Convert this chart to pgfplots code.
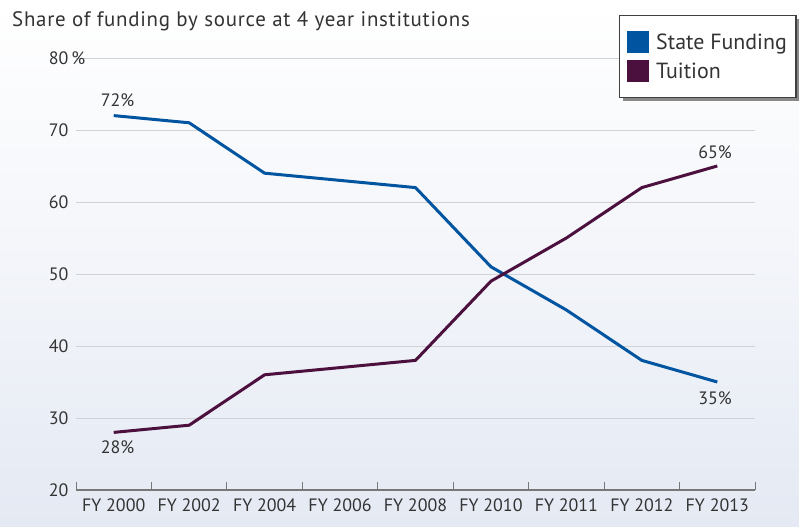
\documentclass[border=0pt]{standalone}
\usepackage{fontspec}
\setmainfont{PT Sans}
\usepackage{pgfplots}
\pgfplotsset{compat=1.18}
\definecolor{statec}{RGB}{0,84,160}
\definecolor{tuitc}{RGB}{76,16,62}
\definecolor{txt}{RGB}{51,51,51}
\definecolor{gridc}{RGB}{210,210,212}
\definecolor{bgb}{RGB}{228,233,243}
\definecolor{axc}{RGB}{120,120,120}
\begin{document}
\begin{tikzpicture}[x=1bp,y=1bp]
\shade[top color=white,bottom color=bgb,middle color=white!55!bgb] (0,0) rectangle (799,527);
\useasboundingbox (0,0) rectangle (799,527);
\node[anchor=base west, font=\fontsize{21}{24}\selectfont\addfontfeature{LetterSpace=3.5}, text=txt, inner sep=0] at (12,500) {Share of funding by source at 4 year institutions};
% legend shadow
\fill[black, opacity=0.45] (623,426) rectangle (830,508);
\begin{axis}[at={(76bp,37bp)}, anchor=south west, scale only axis,
  width=679bp, height=432bp,
  xmin=-0.5, xmax=8.5, ymin=20, ymax=80,
  clip=false,
  axis x line*=bottom, axis y line*=left,
  x axis line style={-, draw=axc, line width=1.2pt},
  y axis line style={draw=none},
  xtick={0,...,8},
  xticklabels={FY 2000,FY 2002,FY 2004,FY 2006,FY 2008,FY 2010,FY 2011,FY 2012,FY 2013},
  minor xtick={-0.5,0.5,...,8.5},
  major x tick style={draw=none},
  minor x tick style={draw=axc, line width=1pt},
  minor tick length=8bp,
  tick align=inside,
  ytick={20,30,...,80},
  yticklabels={20,30,40,50,60,70,{80\rlap{\,\%}}},
  y tick style={draw=none},
  ymajorgrids, grid style={draw=gridc, line width=0.8pt},
  every tick label/.append style={font=\fontsize{18}{21}\selectfont, text=txt},
  xticklabel style={yshift=-5bp},
  yticklabel style={xshift=-4bp},
  legend style={at={(0.7997,1.0995)}, anchor=north west, draw=black!75, line width=1.4pt,
    fill=white,
    font=\fontsize{22}{25}\selectfont, text=txt,
    inner xsep=8bp, inner ysep=16bp, row sep=8bp,
    nodes={inner sep=1bp, anchor=west}},
  legend cell align=left,
  legend image code/.code={\fill[#1, line width=0pt] (0bp,-10.5bp) rectangle (21bp,10.5bp);\path (26bp,0);},
]
\addplot[statec, line width=3bp, line join=round] coordinates {
  (0,72) (1,71) (2,64) (3,63) (4,62) (5,51) (6,45) (7,38) (8,35)};
\addlegendentry{State Funding\hspace{40bp}}
\addplot[tuitc, line width=3bp, line join=round] coordinates {
  (0,28) (1,29) (2,36) (3,37) (4,38) (5,49) (6,55) (7,62) (8,65)};
\addlegendentry{Tuition}
\node[font=\fontsize{18}{21}\selectfont, text=txt] at (axis cs:0.05,74.2) {72\%};
\node[font=\fontsize{18}{21}\selectfont, text=txt] at (axis cs:0.05,26.0) {28\%};
\node[font=\fontsize{18}{21}\selectfont, text=txt] at (axis cs:7.97,66.9) {65\%};
\node[font=\fontsize{18}{21}\selectfont, text=txt] at (axis cs:7.97,32.8) {35\%};
\end{axis}
\end{tikzpicture}
\end{document}
